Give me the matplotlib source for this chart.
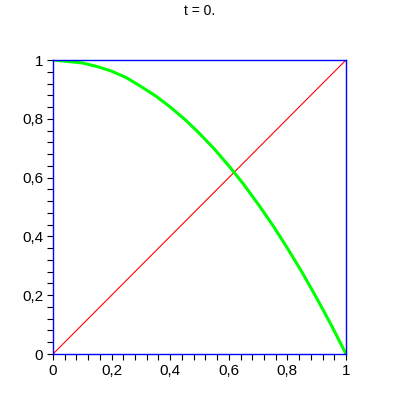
import matplotlib
matplotlib.use("Agg")
import matplotlib.pyplot as plt
from matplotlib.ticker import MultipleLocator, FuncFormatter

# data
red_x = [0.0, 1.0]
red_y = [0.0, 1.0]
green_x = [0.0, 0.05, 0.1, 0.15, 0.2, 0.25, 0.3, 0.35, 0.4, 0.45, 0.5, 0.55, 0.6, 0.65, 0.7, 0.75, 0.8, 0.85, 0.9, 0.95, 1.0]
green_y = [1.0, 0.995, 0.99, 0.978, 0.962, 0.94, 0.91, 0.878, 0.84, 0.798, 0.75, 0.698, 0.64, 0.578, 0.51, 0.438, 0.36, 0.278, 0.19, 0.098, 0.0]
tick_values = [0, 0.2, 0.4, 0.6, 0.8, 1]
title = "t = 0."

plt.rcParams['font.family'] = ['Liberation Sans', 'DejaVu Sans']

fig = plt.figure(figsize=(4, 4), dpi=100)
ax = fig.add_axes([53/400, 46/400, (346-53)/400, (354-60)/400])

ax.plot(red_x, red_y, color='#ff0000', lw=0.8)
ax.plot(green_x, green_y, color='#00ff00', lw=2.2, solid_capstyle='round')

ax.set_xlim(0, 1)
ax.set_ylim(0, 1)
for s in ax.spines.values():
    s.set_color('#0000ff')
    s.set_linewidth(1.0)

def fmt(v, pos):
    if abs(v - round(v)) < 1e-9:
        return str(int(round(v)))
    return ("%.1f" % v).replace('.', ',')

ax.set_xticks(tick_values)
ax.set_yticks(tick_values)
ax.xaxis.set_major_formatter(FuncFormatter(fmt))
ax.yaxis.set_major_formatter(FuncFormatter(fmt))
ax.xaxis.set_minor_locator(MultipleLocator(0.04))
ax.yaxis.set_minor_locator(MultipleLocator(0.04))
ax.tick_params(which='both', direction='out', length=4, width=0.8, color='black',
               top=False, right=False)
ax.tick_params(which='major', labelsize=11, pad=3)

fig.text(0.5, 1 - 11/400, title, ha='center', va='center', fontsize=10)

fig.savefig('out.png', dpi=100)
